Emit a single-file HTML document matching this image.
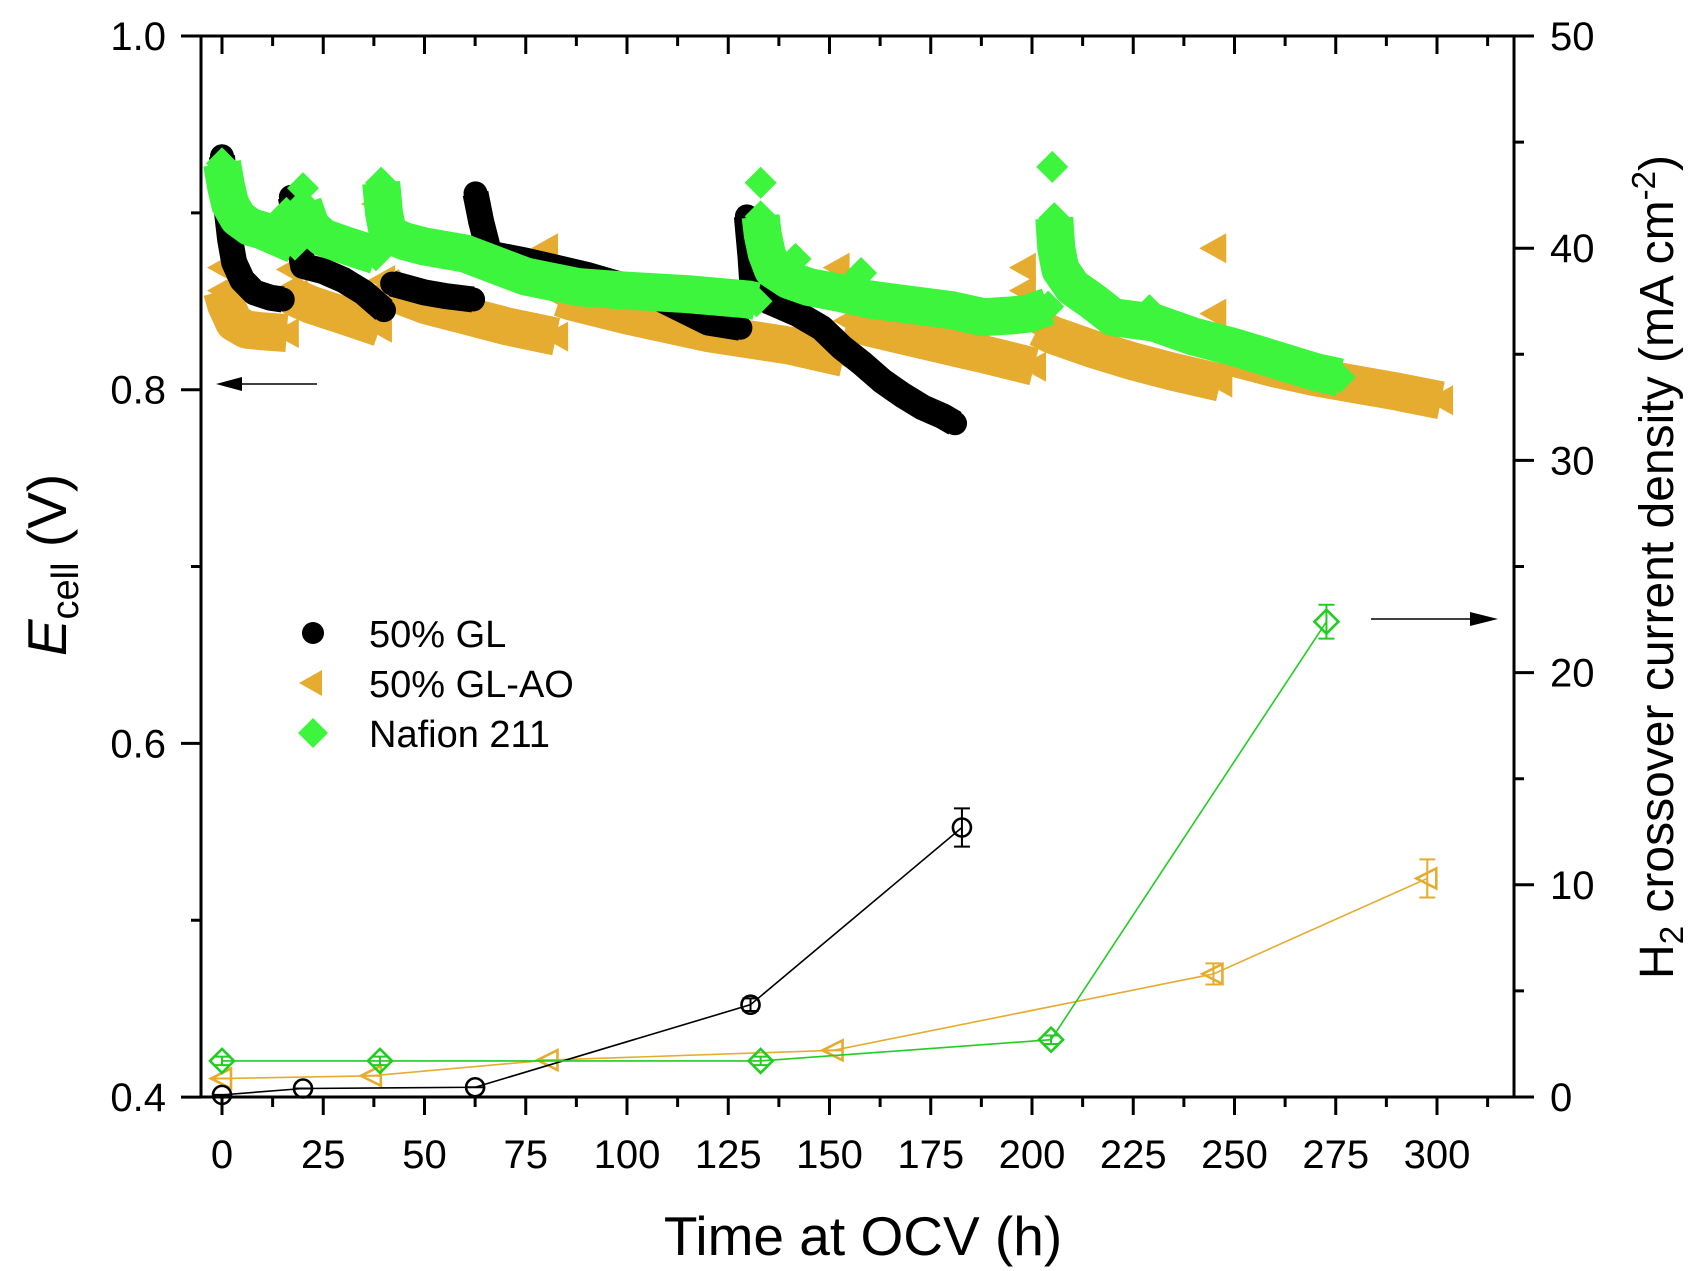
<!DOCTYPE html>
<html><head><meta charset="utf-8"><style>
html,body{margin:0;padding:0;background:#fff;}
svg{display:block;font-family:"Liberation Sans",Arial,sans-serif;}
</style></head><body>
<svg id="chart" width="1695" height="1271" viewBox="0 0 1695 1271">
<g id="bands"></g>
<g id="cross"></g>
<g id="axes"></g>
<g id="legend"></g>
</svg>
<script>
// ---- tick data ----
const xTicks = [0,25,50,75,100,125,150,175,200,225,250,275,300];
const yLeftTicks = [0.4,0.6,0.8,1.0];
const yRightTicks = [0,10,20,30,40,50];

// ---- OCV voltage (left axis), band centres; null = break between segments ----
const glT = [0,1,2,3,5,8,12,15,null,17,20,25,30,35,40,null,42,50,55,62,null,62.6,64,66,75,90,105,120,128,null,129.6,130.5,131,135,142,148,153,158,163,168,173,178,181];
const glV = [0.932,0.905,0.885,0.872,0.862,0.855,0.852,0.851,null,0.909,0.870,0.867,0.862,0.855,0.845,null,0.860,0.855,0.853,0.851,null,0.911,0.895,0.877,0.873,0.865,0.855,0.838,0.835,null,0.898,0.875,0.858,0.850,0.843,0.835,0.824,0.815,0.805,0.797,0.790,0.785,0.781];

const aoT = [0,1,3,6,10,16,null,16.8,18,22,30,39,null,39.8,42,50,60,70,82.5,null,83.5,86,100,120,140,153.5,null,154.5,160,175,190,200.5,null,201.5,205,215,225,235,246.5,null,247.5,250,260,270,280,290,301];
const aoV = [0.856,0.848,0.838,0.834,0.833,0.832,null,0.857,0.852,0.848,0.842,0.835,null,0.862,0.855,0.848,0.842,0.836,0.830,null,0.852,0.850,0.842,0.832,0.825,0.818,null,0.839,0.835,0.827,0.819,0.813,null,0.835,0.831,0.823,0.816,0.810,0.804,null,0.821,0.818,0.812,0.807,0.803,0.799,0.794];
const aoSpikeT = [0,17,38,80,152,198,198,245,245];
const aoSpikeV = [0.869,0.868,0.905,0.880,0.869,0.869,0.856,0.880,0.843];

const nfT = [0,1,2,4,7,10,14,18,null,20,22,25,30,38,null,39.3,40,41,45,50,60,75,88,100,115,130,132,null,133,133.5,134.5,136,140,145,152,160,170,180,188,195,199,204,null,205.5,206,207,210,215,220,230,240,250,260,270,276];
const nfV = [0.928,0.915,0.905,0.897,0.892,0.890,0.886,0.882,null,0.905,0.892,0.886,0.882,0.876,null,0.917,0.900,0.888,0.884,0.881,0.877,0.864,0.858,0.856,0.854,0.851,0.850,null,0.898,0.888,0.877,0.868,0.862,0.858,0.855,0.851,0.848,0.845,0.841,0.842,0.843,0.847,null,0.897,0.880,0.868,0.858,0.850,0.841,0.838,0.830,0.824,0.817,0.810,0.807];
const nfSpikeT = [0,15.9,20,39.3,133,141.6,157.8,205,229];
const nfSpikeV = [0.928,0.900,0.914,0.917,0.917,0.874,0.866,0.926,0.845];

// ---- H2 crossover (right axis) ----
const xoGlT = [0,20,62.5,130.5,182.7];
const xoGlV = [0.1,0.4,0.46,4.35,12.7];
const xoGlE = [0,0,0,0.3,0.9];
const xoAoT = [0,37,80.6,151,244.8,297.6];
const xoAoV = [0.87,1.0,1.74,2.2,5.8,10.3];
const xoAoE = [0,0,0,0,0.5,0.9];
const xoNfT = [0,39,133,204.7,272.7];
const xoNfV = [1.7,1.7,1.7,2.7,22.4];
const xoNfE = [0.2,0.2,0.2,0.2,0.8];

// ---- scales ----
const X = t => 222 + 4.05*t;
const YL = v => 36 + (1 - v)*1768.5;
const YR = c => 1097 - c*21.22;
const NS = "http://www.w3.org/2000/svg";
function mk(tag, attrs, parent){ const e=document.createElementNS(NS,tag); for(const k in attrs) e.setAttribute(k,attrs[k]); parent.appendChild(e); return e; }

const ORANGE="#E5AC2F", GREEN="#3CF53C", GREEN2="#22CC22", BLACK="#000";
const bands=document.getElementById('bands');

function segPaths(T,V){
  let segs=[],cur=[];
  for(let i=0;i<T.length;i++){ if(T[i]===null){ if(cur.length) segs.push(cur); cur=[]; } else cur.push([X(T[i]),YL(V[i])]); }
  if(cur.length) segs.push(cur);
  return segs;
}
function marker(kind,x,y,s,fill,parent){
  let e;
  if(kind==='circle') e=mk('circle',{cx:x,cy:y,r:s,fill:fill},parent);
  else if(kind==='tri') e=mk('polygon',{points:`${x-s},${y} ${x+s*0.8},${y-s} ${x+s*0.8},${y+s}`,fill:fill},parent);
  else e=mk('polygon',{points:`${x},${y-s} ${x+s},${y} ${x},${y+s} ${x-s},${y}`,fill:fill},parent);
  return e;
}
function drawBand(T,V,color,width,kind,ms,name,spT,spV){
  const g=mk('g',{},bands);
  
  
  segPaths(T,V).forEach(seg=>{
    const p=mk('polyline',{points:seg.map(q=>q.join(',')).join(' '),fill:'none',stroke:color,'stroke-width':width,'stroke-linejoin':'round','stroke-linecap':'butt'},g);
    
    
  });
  for(let i=0;i<T.length;i++){ if(T[i]===null) continue;
    const m=marker(kind,X(T[i]),YL(V[i]),ms,color,g);
    
    
  }
  if(spT) for(let i=0;i<spT.length;i++){
    const m=marker(kind,X(spT[i]),YL(spV[i]),ms,color,g);
    
    
  }
}
drawBand(aoT,aoV,ORANGE,38,'tri',15,'gl-ao-ocv',aoSpikeT,aoSpikeV);
drawBand(glT,glV,BLACK,26,'circle',12,'gl-ocv',null,null);
drawBand(nfT,nfV,GREEN,38,'diamond',16,'nafion-ocv',nfSpikeT,nfSpikeV);

// ---- crossover ----
const cross=document.getElementById('cross');
function drawCross(T,V,E,color,kind,name){
  const g=mk('g',{},cross);
  
  
  const l=mk('polyline',{points:T.map((t,i)=>X(t)+','+YR(V[i])).join(' '),fill:'none',stroke:color,'stroke-width':1.6},g);
  
  
  for(let i=0;i<T.length;i++){
    const x=X(T[i]),y=YR(V[i]),y1=YR(V[i]+E[i]),y2=YR(V[i]-E[i]);
    const eb=mk('path',{d:`M${x},${y1}V${y2}M${x-8},${y1}H${x+8}M${x-8},${y2}H${x+8}`,stroke:color,'stroke-width':2,fill:'none'},g);
    
    
    let m;
    if(kind==='circle') m=mk('circle',{cx:x,cy:y,r:9,fill:'none',stroke:color,'stroke-width':2.6},g);
    else if(kind==='tri') m=mk('polygon',{points:`${x-11},${y} ${x+9},${y-10} ${x+9},${y+10}`,fill:'none',stroke:color,'stroke-width':2.6},g);
    else m=mk('polygon',{points:`${x},${y-12} ${x+12},${y} ${x},${y+12} ${x-12},${y}`,fill:'none',stroke:color,'stroke-width':2.6},g);
    
    
  }
}
drawCross(xoAoT,xoAoV,xoAoE,ORANGE,'tri','gl-ao-crossover');
drawCross(xoGlT,xoGlV,xoGlE,BLACK,'circle','gl-crossover');
drawCross(xoNfT,xoNfV,xoNfE,GREEN2,'diamond','nafion-crossover');

// ---- axes ----
const ax=document.getElementById('axes');
const L=201,R=1514,T0=36,B=1097;
const frame=mk('rect',{x:L,y:T0,width:R-L,height:B-T0,fill:'none',stroke:'#000','stroke-width':3},ax);


let d='';
for(let t=0;t<=312.5;t+=12.5){ const x=X(t); const maj=(t%25===0); const len=maj?18:10;
  d+=`M${x},${B}v${len}M${x},${T0}v${len}`; }
for(let v=0.4;v<=1.0001;v+=0.1){ const y=YL(v); const maj=Math.round(v*10)%2===0; d+=`M${L},${y}h${maj?-20:-10}`; }
for(let c=0;c<=50;c+=5){ const y=YR(c); d+=`M${R},${y}h${c%10===0?20:10}`; }
const tp=mk('path',{d:d,stroke:'#000','stroke-width':3,fill:'none'},ax);


xTicks.forEach(t=>{ const e=mk('text',{x:X(t),y:1168,'font-size':40,'text-anchor':'middle'},ax); e.textContent=t;
  
   });
yLeftTicks.forEach(v=>{ const e=mk('text',{x:166,y:YL(v)+14,'font-size':40,'text-anchor':'end'},ax); e.textContent=v.toFixed(1);
  
   });
yRightTicks.forEach(c=>{ const e=mk('text',{x:1550,y:YR(c)+14,'font-size':40,'text-anchor':'start'},ax); e.textContent=c;
  
   });

const extra=`
<text x="863" y="1255" font-size="55" text-anchor="middle">Time at OCV (h)</text>
<text transform="translate(66,565) rotate(-90)" font-size="55" text-anchor="middle"><tspan font-style="italic">E</tspan><tspan font-size="38" dy="12">cell</tspan><tspan dy="-12"> (V)</tspan></text>
<text transform="translate(1673,567) rotate(-90)" font-size="48" text-anchor="middle">H<tspan font-size="33" dy="10">2</tspan><tspan dy="-10"> crossover current density (mA cm</tspan><tspan font-size="33" dy="-18">-2</tspan><tspan dy="18">)</tspan></text>
<g><line x1="240" y1="384" x2="317" y2="384" stroke="#000" stroke-width="1.6"/><polygon points="216,384 242,377 242,391" fill="#000"/></g>
<g><line x1="1371" y1="619" x2="1472" y2="619" stroke="#000" stroke-width="1.6"/><polygon points="1498,619 1470,612 1470,626" fill="#000"/></g>
<g><circle cx="313" cy="633" r="11" fill="#000"/><text x="369" y="647" font-size="38">50% GL</text></g>
<g><polygon points="299,683 322,670 322,696" fill="#E5AC2F"/><text x="369" y="697" font-size="38">50% GL-AO</text></g>
<g><polygon points="313,718 328,733 313,748 298,733" fill="#3CF53C"/><text x="369" y="747" font-size="38">Nafion 211</text></g>`;
document.getElementById('legend').innerHTML=extra;
</script>
</body></html>
